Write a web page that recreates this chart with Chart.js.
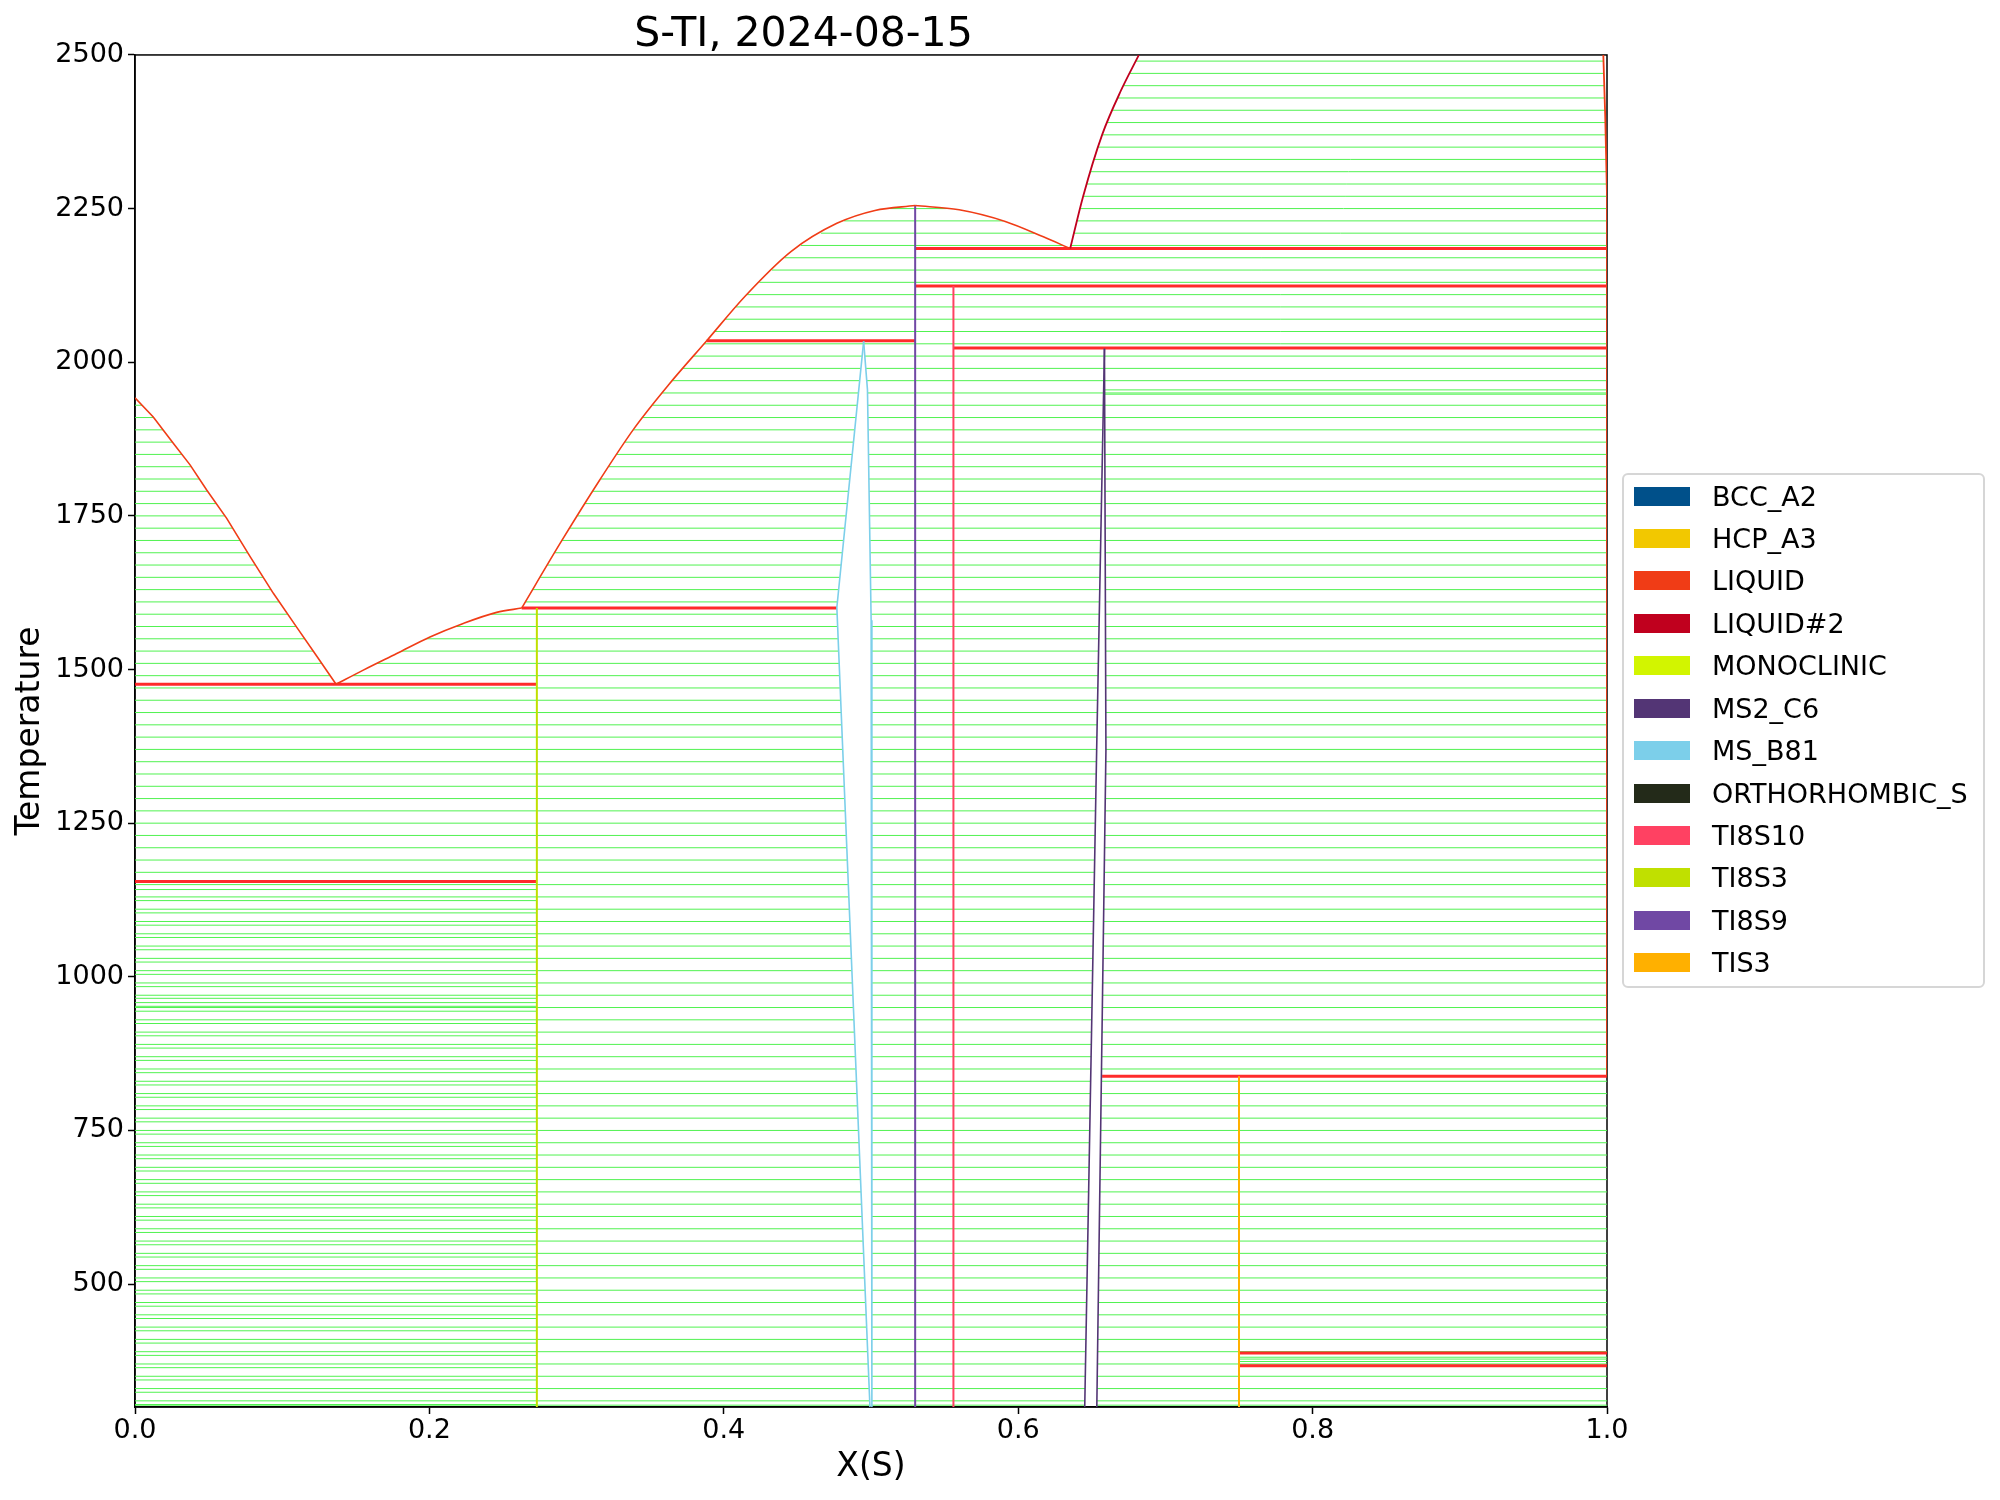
<!DOCTYPE html>
<html>
<head>
<meta charset="utf-8">
<script src="https://cdn.jsdelivr.net/npm/chart.js@4.4.1/dist/chart.umd.min.js"></script>
<style>
  body { margin: 0; background: #fff; }
  #wrap { position: relative; width: 2000px; height: 1500px; }
  #legend { position: absolute; left: 1622px; top: 473px; width: 359px; height: 511px;
    border: 2px solid #d6d6d6; border-radius: 6px; font-family: "DejaVu Sans", sans-serif; font-size: 27px; }
  .item { position: absolute; left: 0; height: 40px; display: flex; align-items: center; }
  .sw { width: 56px; height: 19px; margin-left: 10px; margin-right: 22px; }
</style>
</head>
<body>
<div id="wrap">
  <canvas id="diagram" width="2000" height="1500"></canvas>
  <div id="legend"></div>
</div>
<script>
// axis ticks
const xTicks = [0, 0.2, 0.4, 0.6, 0.8, 1.0];
const yTicks = [500, 750, 1000, 1250, 1500, 1750, 2000, 2250, 2500];

// phases in the legend
const phaseNames = ['BCC_A2', 'HCP_A3', 'LIQUID', 'LIQUID#2', 'MONOCLINIC', 'MS2_C6', 'MS_B81',
  'ORTHORHOMBIC_S', 'TI8S10', 'TI8S3', 'TI8S9', 'TIS3'];
const phaseColors = ['#00508a', '#f2c800', '#f03c16', '#c0001e', '#d2f500', '#533575', '#7ccfea',
  '#232a19', '#ff4162', '#c0e000', '#7048a4', '#ffb000'];

// liquidus / phase boundary curves (x = X(S), t = temperature)
const liqLeftX = [0, 0.0124, 0.026, 0.0374, 0.0487, 0.0623, 0.0781, 0.094, 0.1098, 0.1234, 0.1366];
const liqLeftT = [1942, 1911, 1868, 1833, 1792, 1746, 1684, 1624, 1569, 1522, 1476];
const liqEutX = [0.1366, 0.1551, 0.1778, 0.2004, 0.223, 0.2457, 0.2627];
const liqEutT = [1476, 1499, 1526, 1553, 1575, 1593, 1600];
const liqMidX = [0.2627, 0.2895, 0.3156, 0.339, 0.3624, 0.3884, 0.4143, 0.4456, 0.4768, 0.5027, 0.530];
const liqMidT = [1600, 1708, 1808, 1892, 1963, 2035, 2107, 2180, 2226, 2247, 2255];
const liqDescX = [0.530, 0.5599, 0.5912, 0.6171, 0.6353];
const liqDescT = [2255, 2248, 2229, 2204, 2185];
const liq2X = [0.6353, 0.644, 0.657, 0.670, 0.682];
const liq2T = [2185, 2269, 2370, 2443, 2500];
const edgeX = [0.9975, 0.9988, 1.0, 1.0];
const edgeT = [2500, 2400, 2270, 838];
const msb81LeftX = [0.495, 0.4768, 0.4993];
const msb81LeftT = [2034, 1601, 300];
const msb81RightX = [0.495, 0.4976, 0.5001, 0.5006];
const msb81RightT = [2034, 1955, 1580, 300];
const ms2c6LeftX = [0.6586, 0.6533, 0.6452];
const ms2c6LeftT = [2022, 1369, 300];
const ms2c6RightX = [0.6586, 0.6596, 0.6534];
const ms2c6RightT = [2022, 1369, 300];

// invariant (three-phase) lines
const invT = [1476, 1155, 1600, 2035, 2185, 2124, 2023, 838, 388, 367];
const invX0 = [0, 0, 0.2627, 0.3884, 0.530, 0.530, 0.556, 0.657, 0.75, 0.75];
const invX1 = [0.273, 0.273, 0.4768, 0.530, 1, 1, 1, 1, 1, 1];

// compound lines: name, x, top temperature
const compName = ['TI8S3', 'TI8S9', 'TI8S10', 'TIS3'];
const compX = [0.273, 0.530, 0.556, 0.75];
const compTop = [1600, 2255, 2124, 838];

// tie-line temperatures
const tieT = [303, 310, 330, 350, 370, 390, 410, 430, 450, 470, 490, 510, 530, 550, 570, 590, 610, 630, 650, 670,
  690, 710, 730, 750, 770, 790, 810, 830, 850, 870, 890, 910, 930, 950, 970, 990, 1010, 1030, 1050, 1070,
  1090, 1110, 1130, 1150, 1170, 1190, 1210, 1230, 1250, 1270, 1290, 1310, 1330, 1350, 1370, 1390, 1410,
  1430, 1450, 1470, 1490, 1510, 1530, 1550, 1570, 1590, 1610, 1630, 1650, 1670, 1690, 1710, 1730, 1750,
  1770, 1790, 1810, 1830, 1850, 1870, 1890, 1910, 1930, 1950, 1970, 1990, 2010, 2030, 2050, 2070, 2090,
  2110, 2130, 2150, 2170, 2190, 2210, 2230, 2250, 2270, 2290, 2310, 2330, 2350, 2370, 2390, 2410, 2430,
  2450, 2470, 2490];
const tieLowLeftT = [304, 324, 344, 364, 384, 404, 424, 444, 464, 484, 504, 524, 544, 564, 584, 604, 624,
  644, 664, 684, 704, 724, 744, 764, 784, 804, 824, 844, 864, 884, 904, 924, 944, 952, 958, 965, 984, 1004,
  1024, 1044, 1064, 1084, 1104, 1124, 1142];
const tieMidRightT = [1948, 1955];
const tieTis3T = [374, 378, 381];

function xAt(xs, ts, t) {
  for (let i = 0; i < xs.length - 1; i++) {
    const a = ts[i], b = ts[i + 1];
    if ((t - a) * (t - b) <= 0 && a !== b) return xs[i] + (xs[i + 1] - xs[i]) * (t - a) / (b - a);
  }
  return xs[xs.length - 1];
}
function side(s, t) { return typeof s === 'number' ? s : xAt(s[0], s[1], t); }

function ties(left, right, lo, hi, temps) {
  const pts = [];
  temps.forEach(t => {
    if (t <= lo || t >= hi) return;
    pts.push({x: side(left, t), y: t}, {x: side(right, t), y: t}, {x: null, y: null});
  });
  return pts;
}

const liqLeft = [liqLeftX, liqLeftT], liqEut = [liqEutX, liqEutT], liqMid = [liqMidX, liqMidT];
const liqDesc = [liqDescX, liqDescT], liq2 = [liq2X, liq2T], edge = [edgeX, edgeT];
const b81L = [msb81LeftX, msb81LeftT], b81R = [msb81RightX, msb81RightT];
const c6L = [ms2c6LeftX, ms2c6LeftT], c6R = [ms2c6RightX, ms2c6RightT];

const tieSets = [
  ties(0, liqLeft, 1476, 1942, tieT),
  ties(0, 0.273, 300, 1476, tieT),
  ties(0, 0.273, 300, 1155, tieLowLeftT),
  ties(liqEut, 0.273, 1476, 1600, tieT),
  ties(0.273, b81L, 300, 1600, tieT),
  ties(liqMid, b81L, 1600, 2035, tieT),
  ties(liqMid, 0.530, 2035, 2255, tieT),
  ties(b81R, 0.530, 300, 2034, tieT),
  ties(0.530, liqDesc, 2185, 2255, tieT),
  ties(0.530, 1, 2124, 2185, tieT),
  ties(0.530, 0.556, 300, 2124, tieT),
  ties(0.556, 1, 2023, 2124, tieT),
  ties(0.556, c6L, 300, 2023, tieT),
  ties(c6R, 1, 838, 2023, tieT),
  ties(c6R, 1, 838, 2023, tieMidRightT),
  ties(c6R, 0.75, 300, 838, tieT),
  ties(0.75, 1, 300, 838, tieT),
  ties(0.75, 1, 300, 838, tieTis3T),
  ties(liq2, edge, 2185, 2500, tieT)
];

function curve(xs, ts) { return xs.map((x, i) => ({x: x, y: ts[i]})); }
function col(name) { return phaseColors[phaseNames.indexOf(name)]; }

const datasets = [];
tieSets.forEach(pts => datasets.push({
  data: pts, showLine: true, borderColor: 'rgb(80,242,80)', borderWidth: 1, pointRadius: 0, order: 10
}));
function addLine(pts, color, width, order, smooth) {
  datasets.push({data: pts, showLine: true, borderColor: color, borderWidth: width, pointRadius: 0,
    order: order, cubicInterpolationMode: smooth ? 'monotone' : 'default'});
}
invT.forEach((t, i) => addLine([{x: invX0[i], y: t}, {x: invX1[i], y: t}], 'rgba(255,20,20,0.9)', 3, 5));
compName.forEach((n, i) => addLine([{x: compX[i], y: 300}, {x: compX[i], y: compTop[i]}], col(n), 2, 3));
addLine(curve(liqLeftX, liqLeftT), col('LIQUID'), 1.6, 2, false);
addLine(curve(liqEutX, liqEutT), col('LIQUID'), 1.6, 2, true);
addLine(curve(liqMidX, liqMidT), col('LIQUID'), 1.6, 2, true);
addLine(curve(liqDescX, liqDescT), col('LIQUID'), 1.6, 2, true);
addLine(curve(liq2X, liq2T), col('LIQUID#2'), 1.8, 2, true);
addLine(curve(edgeX, edgeT), col('LIQUID'), 1.8, 2);
addLine(curve(msb81LeftX, msb81LeftT), col('MS_B81'), 1.6, 2);
addLine(curve(msb81RightX, msb81RightT), col('MS_B81'), 1.6, 2);
addLine(curve(ms2c6LeftX, ms2c6LeftT), col('MS2_C6'), 1.6, 2);
addLine(curve(ms2c6RightX, ms2c6RightT), col('MS2_C6'), 1.6, 2);

const frame = {
  id: 'frame',
  beforeDatasetsDraw(chart) {
    const a = chart.chartArea, c = chart.ctx;
    c.save();
    c.strokeStyle = '#000';
    c.lineWidth = 1.5;
    c.strokeRect(a.left, a.top, a.right - a.left, a.bottom - a.top);
    c.restore();
  }
};

const font = '"DejaVu Sans", sans-serif';
new Chart(document.getElementById('diagram'), {
  type: 'scatter',
  data: {datasets: datasets},
  plugins: [frame],
  options: {
    responsive: false,
    animation: false,
    events: [],
    layout: {padding: {left: 0, right: 393, top: 0, bottom: 0}},
    plugins: {
      legend: {display: false},
      tooltip: {enabled: false},
      title: {display: true, text: 'S-TI, 2024-08-15', color: '#000',
        font: {family: font, size: 41, weight: 'normal', lineHeight: 0.95}, padding: {top: 16, bottom: 0}}
    },
    scales: {
      x: {
        type: 'linear', min: 0, max: 1,
        afterFit(s) { s.height = 93; },
        afterBuildTicks(s) { s.ticks = xTicks.map(v => ({value: v})); },
        ticks: {color: '#000', font: {family: font, size: 27}, padding: 1, maxRotation: 0, autoSkip: false,
          callback: v => v.toFixed(1)},
        grid: {drawOnChartArea: false, tickLength: 7, tickColor: '#000', tickWidth: 1.5},
        border: {display: true, color: '#000', width: 1.5},
        title: {display: true, text: 'X(S)', color: '#000', font: {family: font, size: 33}, padding: {top: 0, bottom: 13}}
      },
      y: {
        type: 'linear', min: 300, max: 2500,
        afterFit(s) { s.width = 135; },
        afterBuildTicks(s) { s.ticks = yTicks.map(v => ({value: v})); },
        ticks: {color: '#000', font: {family: font, size: 27}, padding: 4, autoSkip: false,
          callback: v => String(v)},
        grid: {drawOnChartArea: false, tickLength: 7, tickColor: '#000', tickWidth: 1.5},
        border: {display: true, color: '#000', width: 1.5},
        title: {display: true, text: 'Temperature', color: '#000', font: {family: font, size: 33}, padding: {top: 11, bottom: 0}}
      }
    }
  }
});

// legend
const legend = document.getElementById('legend');
phaseNames.forEach((n, i) => {
  const row = document.createElement('div');
  row.className = 'item';
  row.style.top = (1 + 42.43 * i) + 'px';
  const sw = document.createElement('span');
  sw.className = 'sw';
  sw.style.background = phaseColors[i];
  const tx = document.createElement('span');
  tx.textContent = n;
  row.appendChild(sw);
  row.appendChild(tx);
  legend.appendChild(row);
});
</script>
</body>
</html>
